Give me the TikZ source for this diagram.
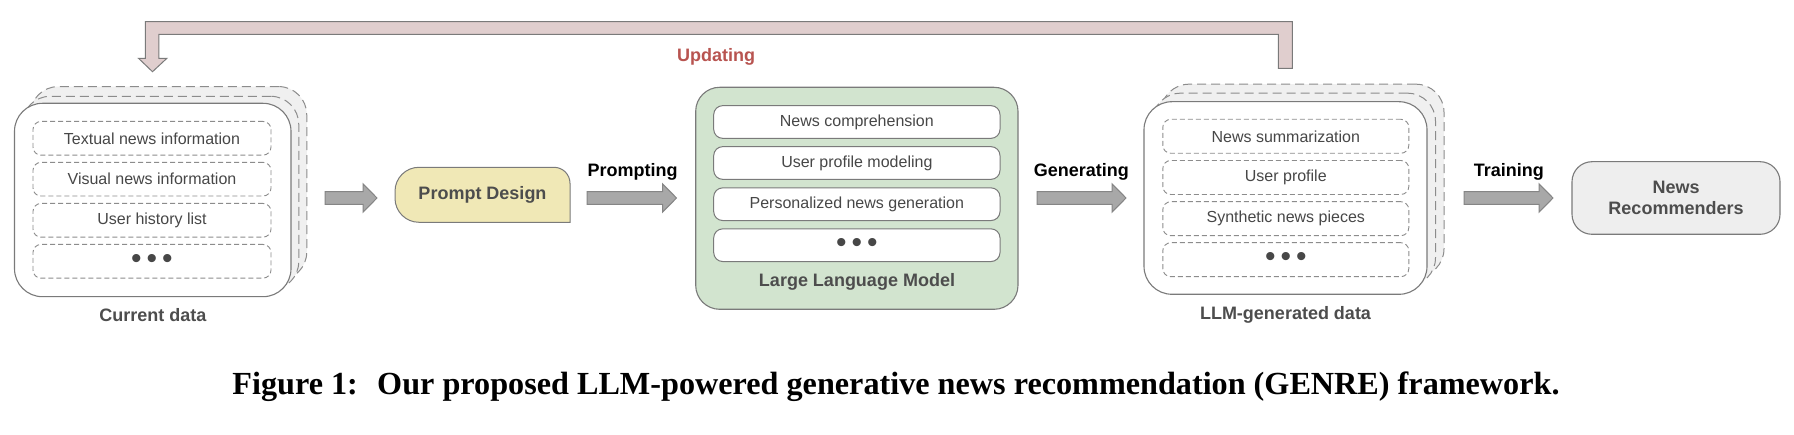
\documentclass[tikz,border=0pt]{standalone}
\usepackage{fontspec}
\setmainfont{Liberation Sans}
\newfontfamily\capfont{Liberation Serif}
\usetikzlibrary{calc}
\definecolor{linegray}{HTML}{7A7A7A}
\definecolor{dashgray}{HTML}{8C8C8C}
\definecolor{layerfill}{HTML}{F0F0F0}
\definecolor{arrowfill}{HTML}{A8A8A8}
\definecolor{arrowline}{HTML}{858585}
\definecolor{updfill}{HTML}{E0CECE}
\definecolor{updtext}{HTML}{B85450}
\definecolor{promptfill}{HTML}{F0E8B6}
\definecolor{llmfill}{HTML}{D2E4CF}
\definecolor{recfill}{HTML}{EEEEEE}
\definecolor{txtgray}{HTML}{474747}
\definecolor{boldgray}{HTML}{4D4D4D}
\newcommand{\blockarrow}[2]{%
  \path[blockarr] let \p1=(#1), \p2=(#2) in
   (\x1,\y1+6.3pt) -- (\x2-14pt,\y1+6.3pt) -- (\x2-14pt,\y1+14.2pt) -- (\x2,\y1)
   -- (\x2-14pt,\y1-14.2pt) -- (\x2-14pt,\y1-6.3pt) -- (\x1,\y1-6.3pt) -- cycle;}
\newcommand{\threedots}{{\fontsize{30}{30}\selectfont\textbullet\hspace{5pt}\textbullet\hspace{5pt}\textbullet}}
\begin{document}
\begin{tikzpicture}[x=1pt,y=-1pt,
  layerbox/.style={draw=dashgray, dash pattern=on 9pt off 5pt, fill=layerfill, line width=1pt, rounded corners=28pt, inner sep=0pt},
  frontbox/.style={draw=linegray, fill=white, line width=1.1pt, rounded corners=28pt, inner sep=0pt},
  itembox/.style={draw=dashgray, dash pattern=on 5pt off 3pt, line width=0.9pt, rounded corners=8pt, inner sep=0pt, text=txtgray, font=\fontsize{16}{19}\selectfont},
  llmitem/.style={draw=linegray, fill=white, line width=1pt, rounded corners=9pt, inner sep=0pt, minimum width=286.3pt, minimum height=32.7pt, text=txtgray, font=\fontsize{16}{19}\selectfont},
  boldlabel/.style={text=boldgray, font=\fontsize{18}{21}\selectfont\bfseries, inner sep=0pt},
  arrlabel/.style={text=black, font=\fontsize{18}{21}\selectfont\bfseries, inner sep=0pt},
  blockarr/.style={draw=arrowline, fill=arrowfill, line width=1pt},
]
\useasboundingbox (0,0) rectangle (1794,435);
\fill[white] (0,0) rectangle (1794,435);

% Updating feedback arrow
\coordinate (updtip) at (152.5,71.7);
\draw[draw=linegray, fill=updfill, line width=1pt]
  (1292.4,68.3) -- (1292.4,21.7) -- (145.4,21.7) -- (145.4,58.3) -- (138.5,58.3)
  -- (updtip) -- (166.9,58.3) -- (158.8,58.3) -- (158.8,34.3) -- (1278.4,34.3)
  -- (1278.4,68.3) -- cycle;
\node[text=updtext, font=\fontsize{18}{21}\selectfont\bfseries, inner sep=0pt] (upd) at (716,57.3) {Updating};

% Current data stack
\node[layerbox, minimum width=276.5pt, minimum height=193.4pt] (cdback) at (168.5,183.3) {};
\node[layerbox, minimum width=276.5pt, minimum height=193.4pt] (cdmid) at (160.5,193) {};
\node[frontbox, minimum width=276.5pt, minimum height=193.4pt] (cd) at (152.75,200) {};
\node[itembox, minimum width=238pt, minimum height=33.7pt] (cd1) at (152,138.3) {Textual news information};
\node[itembox, minimum width=238pt, minimum height=33.7pt] (cd2) at (152,179.2) {Visual news information};
\node[itembox, minimum width=238pt, minimum height=33.7pt] (cd3) at (152,220.3) {User history list};
\node[itembox, minimum width=238pt, minimum height=33.7pt] (cd4) at (152,261.3) {\threedots};
\node[boldlabel] (cdlab) at (153,315) {Current data};

% Prompt design
\draw[draw=linegray, fill=promptfill, line width=1pt]
  (570,222.3) -- (570,194) [rounded corners=16pt] -- (570,167.3) -- (480,167.3)
  [rounded corners=24pt] -- (395,167.3) -- (395,222.3) -- (480,222.3) [sharp corners] -- cycle;
\node[boldlabel] (pd) at (482.5,195) {Prompt Design};

% LLM
\node[draw=linegray, fill=llmfill, line width=1.1pt, rounded corners=24pt, minimum width=322.3pt, minimum height=222pt, inner sep=0pt] (llm) at (856.85,198.3) {};
\node[llmitem] (l1) at (856.85,122) {News comprehension};
\node[llmitem] (l2) at (856.85,163) {User profile modeling};
\node[llmitem] (l3) at (856.85,204.2) {Personalized news generation};
\node[llmitem] (l4) at (856.85,245.2) {\threedots};
\node[boldlabel] (llmlab) at (857,282) {Large Language Model};

% LLM-generated data stack
\node[layerbox, minimum width=283pt, minimum height=192.6pt] (gdback) at (1302.5,180.5) {};
\node[layerbox, minimum width=283pt, minimum height=192.6pt] (gdmid) at (1294,189.5) {};
\node[frontbox, minimum width=283pt, minimum height=192.6pt] (gd) at (1285.5,198) {};
\node[itembox, minimum width=246pt, minimum height=34pt] (g1) at (1285.8,136.3) {News summarization};
\node[itembox, minimum width=246pt, minimum height=34pt] (g2) at (1285.8,177.5) {User profile};
\node[itembox, minimum width=246pt, minimum height=34pt] (g3) at (1285.8,218.7) {Synthetic news pieces};
\node[itembox, minimum width=246pt, minimum height=34pt] (g4) at (1285.8,259.7) {\threedots};
\node[boldlabel] (gdlab) at (1285.5,315) {LLM-generated data};

% News recommenders
\node[draw=linegray, fill=recfill, line width=1.1pt, rounded corners=20pt, minimum width=208pt, minimum height=72.6pt, inner sep=0pt, text=boldgray, font=\fontsize{18}{21}\selectfont\bfseries, align=center] (rec) at (1676,198) {News\\Recommenders};

% Block arrows
\coordinate (a1s) at (325,198);  \coordinate (a1e) at (377,198);
\coordinate (a2s) at (587,198);  \coordinate (a2e) at (676.5,198);
\coordinate (a3s) at (1037,198); \coordinate (a3e) at (1126,198);
\coordinate (a4s) at (1464,198); \coordinate (a4e) at (1553,198);
\blockarrow{a1s}{a1e}
\blockarrow{a2s}{a2e}
\blockarrow{a3s}{a3e}
\blockarrow{a4s}{a4e}
\node[arrlabel] (lp) at (632.5,172.3) {Prompting};
\node[arrlabel] (lg) at (1081.3,172.3) {Generating};
\node[arrlabel] (lt) at (1508.8,172.3) {Training};

% Caption
\node[inner sep=0pt, anchor=base, font=\capfont\fontsize{32.2}{36}\selectfont\bfseries] (cap) at (896,395) {Figure 1:\hspace{0.6em}Our proposed LLM-powered generative news recommendation (GENRE) framework.};
\end{tikzpicture}
\end{document}
